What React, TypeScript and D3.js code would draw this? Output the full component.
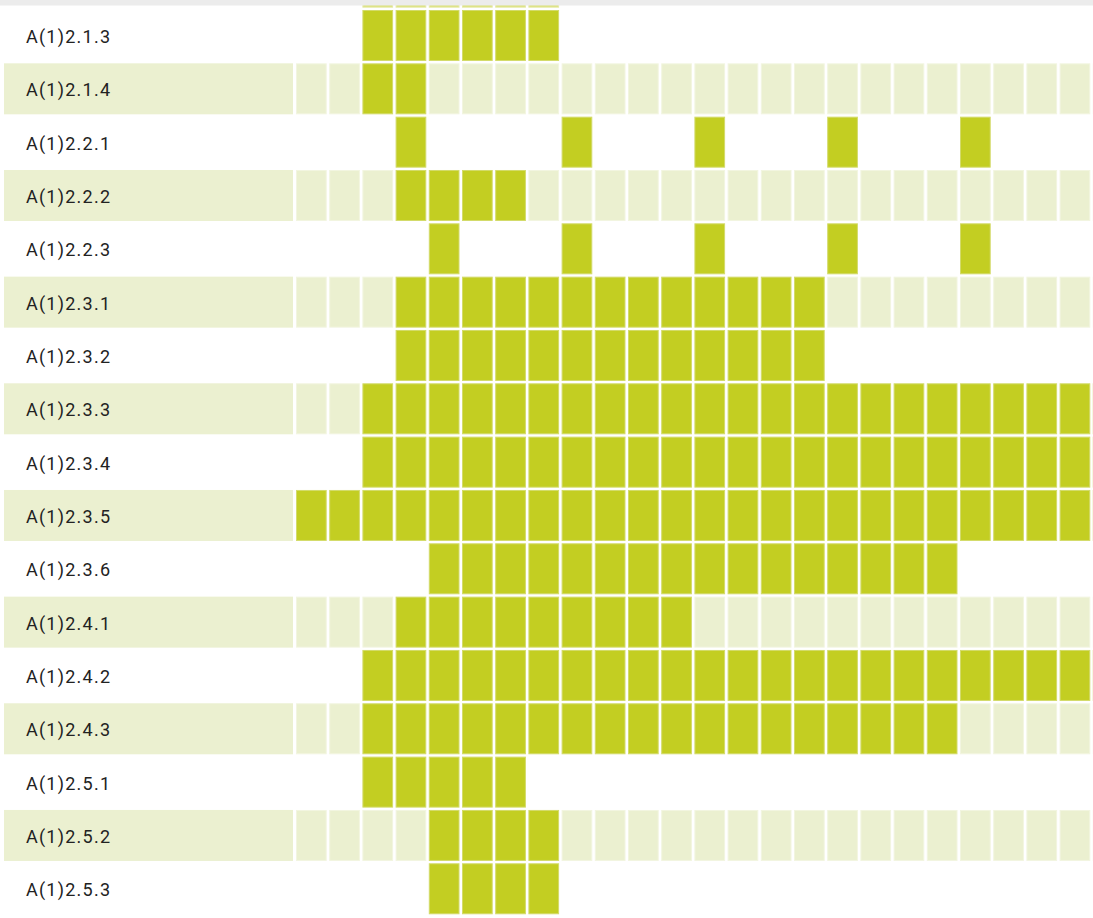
import React from 'react';
import * as d3 from 'd3';

// row labels, top to bottom (the first row is cut off by the top edge)
const rowLabels = [
  'A(1)2.1.2',
  'A(1)2.1.3',
  'A(1)2.1.4',
  'A(1)2.2.1',
  'A(1)2.2.2',
  'A(1)2.2.3',
  'A(1)2.3.1',
  'A(1)2.3.2',
  'A(1)2.3.3',
  'A(1)2.3.4',
  'A(1)2.3.5',
  'A(1)2.3.6',
  'A(1)2.4.1',
  'A(1)2.4.2',
  'A(1)2.4.3',
  'A(1)2.5.1',
  'A(1)2.5.2',
  'A(1)2.5.3',
];

// shaded (light band) rows
const shadedRows = [false, false, true, false, true, false, true, false, true, false, true, false, true, false, true, false, true, false];

// filled column ranges per row, [first, last] inclusive
const filledRanges: [number, number][][] = [
  [[2, 7]],
  [[2, 7]],
  [[2, 3]],
  [[3, 3], [8, 8], [12, 12], [16, 16], [20, 20]],
  [[3, 6]],
  [[4, 4], [8, 8], [12, 12], [16, 16], [20, 20]],
  [[3, 15]],
  [[3, 15]],
  [[2, 24]],
  [[2, 24]],
  [[0, 24]],
  [[4, 19]],
  [[3, 11]],
  [[2, 24]],
  [[2, 19]],
  [[2, 6]],
  [[4, 7]],
  [[4, 7]],
];

const columns = d3.range(25);

const W = 1093;
const H = 918;
const GREEN = '#c3ce22';
const LIGHT = '#ebf0d0';

const rowStep = 53.33;
const rowPad = 2.33 / rowStep;
const firstTop = 10 - rowStep; // top of the cut-off row
const y = d3
  .scaleBand<string>()
  .domain(rowLabels)
  .range([firstTop - (rowPad / 2) * rowStep, firstTop - (rowPad / 2) * rowStep + rowLabels.length * rowStep])
  .paddingInner(rowPad)
  .paddingOuter(rowPad / 2);

const colStep = 33.2;
const colPad = 2.5 / colStep;
const x = d3
  .scaleBand<number>()
  .domain(columns)
  .range([296 - (colPad / 2) * colStep, 296 - (colPad / 2) * colStep + columns.length * colStep])
  .paddingInner(colPad)
  .paddingOuter(colPad / 2);

const isFilled = (row: number, col: number) =>
  filledRanges[row].some(([a, b]) => col >= a && col <= b);

export default function App() {
  return (
    <div style={{ position: 'absolute', left: 0, top: 0, width: W, height: H, background: '#fff' }}>
      <svg width={W} height={H} style={{ display: 'block' }}>
        {rowLabels.map((label, i) => {
          const top = y(label)!;
          const h = y.bandwidth();
          const cutOff = i === 0;
          return (
            <g key={label} opacity={cutOff ? 0.6 : 1}>
              {shadedRows[i] && <rect x={4} y={top} width={289} height={h} fill={LIGHT} />}
              {columns.map((c) => {
                const filled = isFilled(i, c);
                if (!filled && !shadedRows[i]) return null;
                return (
                  <rect
                    key={c}
                    x={x(c)! + 0.5}
                    y={top + 0.5}
                    width={x.bandwidth() - 1}
                    height={h - 1}
                    fill={filled ? GREEN : LIGHT}
                    stroke={filled ? '#d3db6a' : '#f2f5e0'}
                    strokeWidth={1}
                  />
                );
              })}
              {!cutOff && (
                <text
                  x={26}
                  y={top + h / 2 + 7.4}
                  fontFamily="Roboto, sans-serif"
                  fontSize={18}
                  fill="#222"
                  textLength={84}
                  lengthAdjust="spacing"
                >
                  {label}
                </text>
              )}
            </g>
          );
        })}
        <rect x={0} y={0} width={W} height={5.5} fill="#ececec" />
      </svg>
    </div>
  );
}
